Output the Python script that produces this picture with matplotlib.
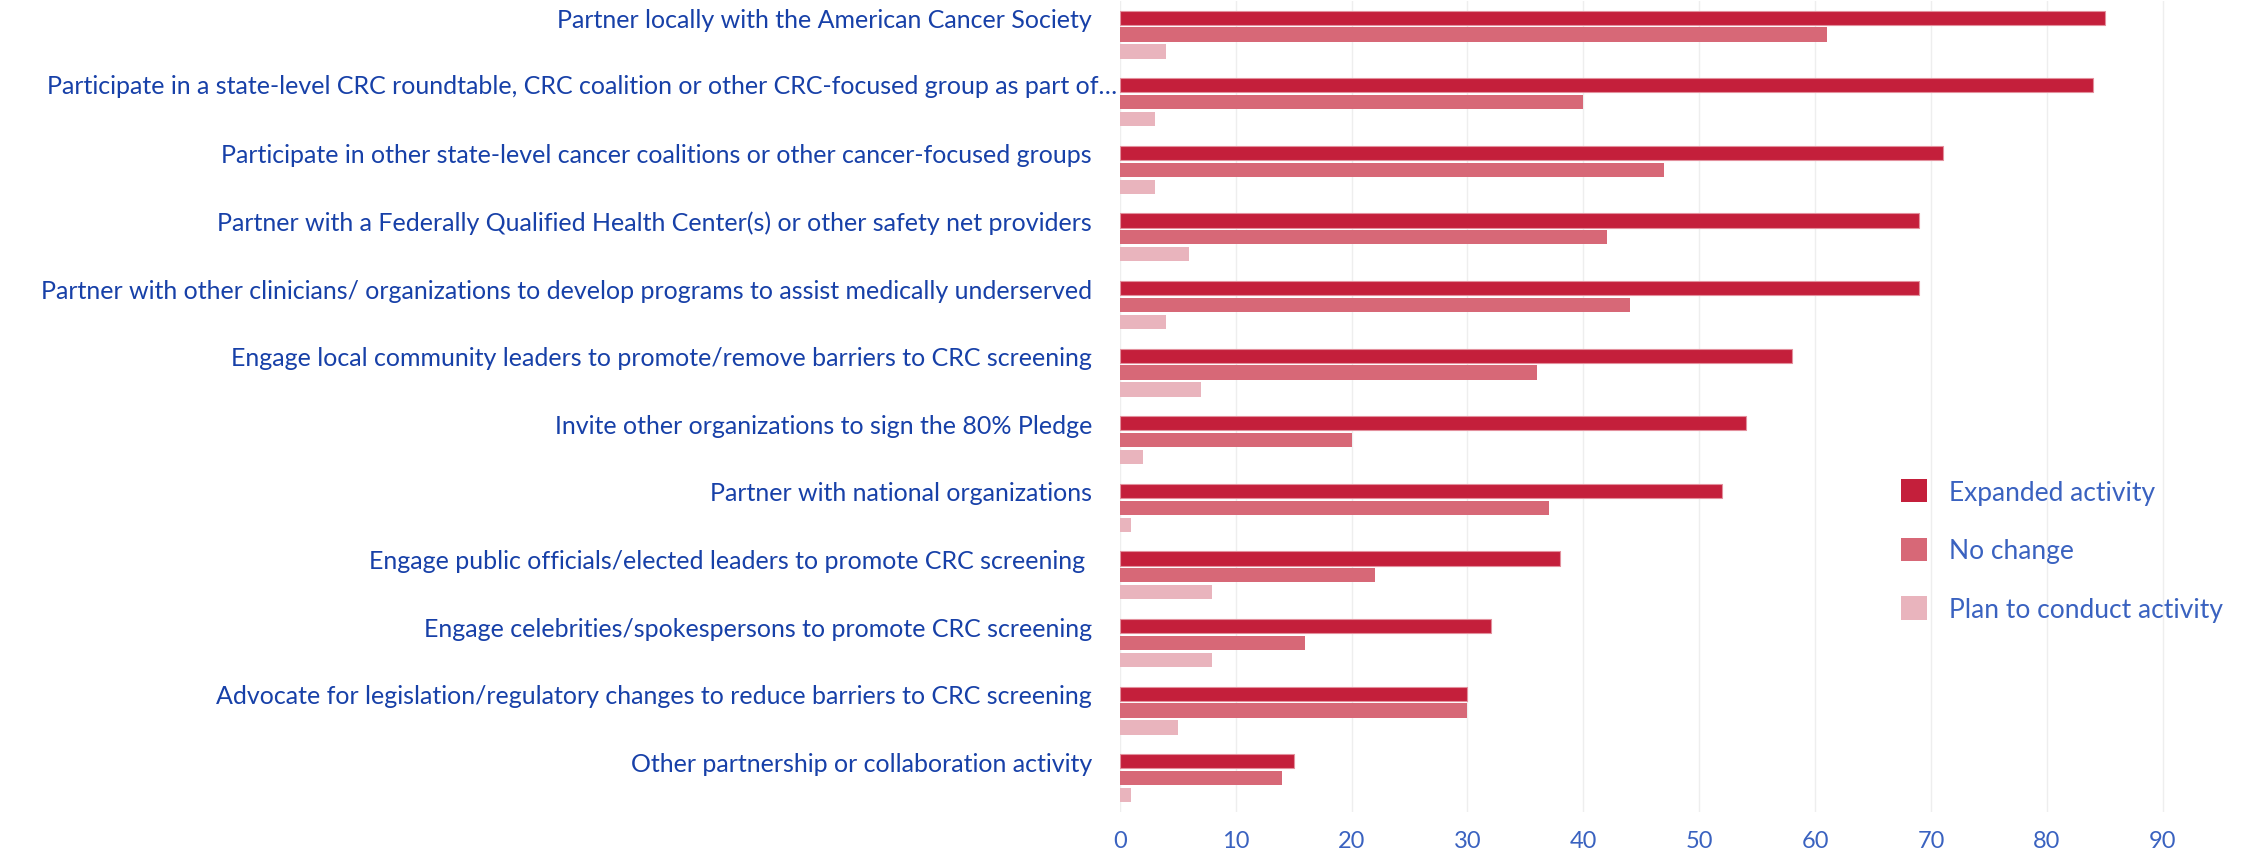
import numpy as np
import matplotlib
matplotlib.use("Agg")
import matplotlib.pyplot as plt
from matplotlib.patches import Patch

# data
activities = [
    "Partner locally with the American Cancer Society",
    "Participate in a state-level CRC roundtable, CRC coalition or other CRC-focused group as part of\u2026",
    "Participate in other state-level cancer coalitions or other cancer-focused groups",
    "Partner with a Federally Qualified Health Center(s) or other safety net providers",
    "Partner with other clinicians/ organizations to develop programs to assist medically underserved",
    "Engage local community leaders to promote/remove barriers to CRC screening",
    "Invite other organizations to sign the 80% Pledge",
    "Partner with national organizations",
    "Engage public officials/elected leaders to promote CRC screening ",
    "Engage celebrities/spokespersons to promote CRC screening",
    "Advocate for legislation/regulatory changes to reduce barriers to CRC screening",
    "Other partnership or collaboration activity",
]
expanded = [85, 84, 71, 69, 69, 58, 54, 52, 38, 32, 30, 15]
no_change = [61, 40, 47, 42, 44, 36, 20, 37, 22, 16, 30, 14]
plan = [4, 3, 3, 6, 4, 7, 2, 1, 8, 8, 5, 1]
series_names = ["Expanded activity", "No change", "Plan to conduct activity"]
x_ticks = [0, 10, 20, 30, 40, 50, 60, 70, 80, 90]

colors = ["#c41f3b", "#d76877", "#e9b4bd"]
text_blue = "#1740a8"
tick_blue = "#3a62c0"

fig = plt.figure(figsize=(22.53, 8.54), dpi=100)
ax = fig.add_axes([0.497, 0.048, 0.4887, 0.95])

y = np.arange(len(activities))
h = 0.21
off = 0.25
ax.barh(y - off, expanded, height=h, color=colors[0], edgecolor="#e3909d", linewidth=0.8, zorder=3)
ax.barh(y, no_change, height=h, color=colors[1], zorder=3)
ax.barh(y + off, plan, height=h, color=colors[2], zorder=3)

ax.set_ylim(11.5, -0.5)
ax.set_xlim(0, 95)
ax.set_xticks(x_ticks)
ax.set_yticks(y - off)
# the truncated label overflows nearly to the axis, draw it on its own
tick_text = [a if not a.endswith("\u2026") else "" for a in activities]
ax.set_yticklabels(tick_text, fontsize=18, color=text_blue, family="Lato")
for i, a in enumerate(activities):
    if a.endswith("\u2026"):
        ax.annotate(a, xy=(0, i - off), xycoords=("axes fraction", "data"),
                    xytext=(-2, 0), textcoords="offset points", ha="right", va="center",
                    fontsize=18, color=text_blue, family="Lato")
for lbl in ax.get_xticklabels():
    lbl.set_family("Lato")
    lbl.set_fontsize(17)
    lbl.set_color(tick_blue)
ax.tick_params(axis="both", length=0)
ax.tick_params(axis="y", pad=20)
ax.tick_params(axis="x", pad=13)

for s in ax.spines.values():
    s.set_visible(False)
ax.grid(axis="x", color="#eeeeee", linewidth=1, zorder=0)
ax.set_axisbelow(True)

handles = [Patch(facecolor=c, edgecolor="none") for c in colors]
leg = ax.legend(handles, series_names, loc="upper left", bbox_to_anchor=(0.688, 0.44),
                frameon=False, handlelength=1.0, handleheight=1.0, handletextpad=0.8,
                labelspacing=1.25, prop={"family": "Lato", "size": 19})
for t in leg.get_texts():
    t.set_color(tick_blue)

fig.savefig("out.png", dpi=100)
